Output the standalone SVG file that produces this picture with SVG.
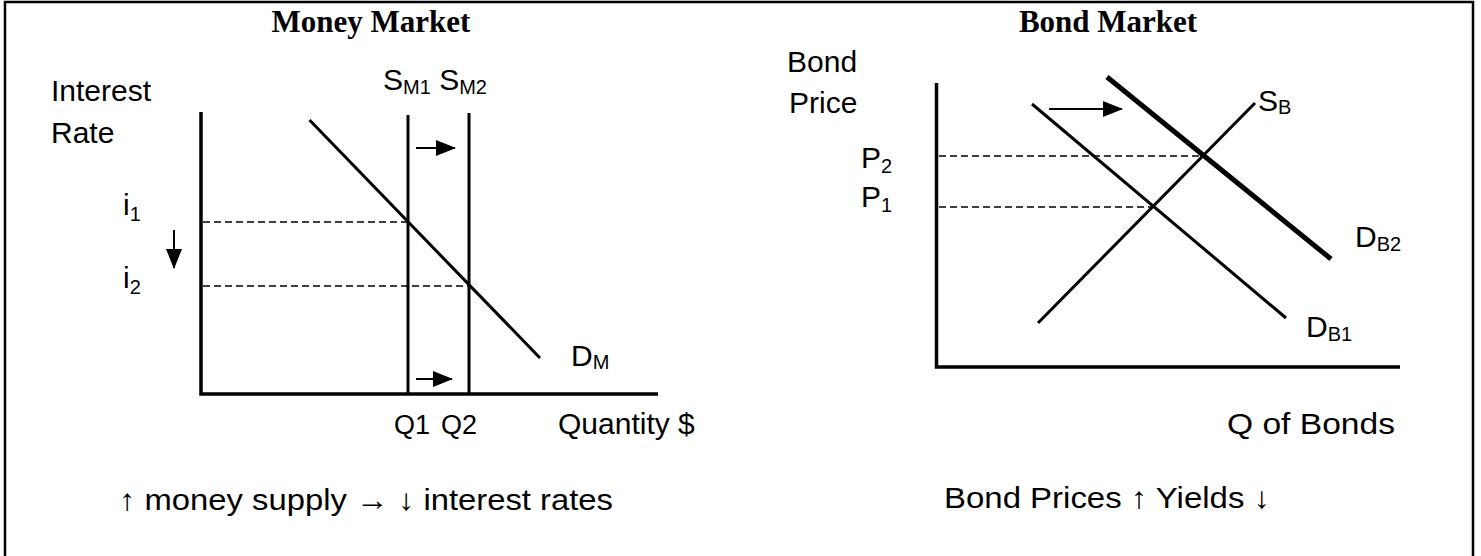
<svg xmlns="http://www.w3.org/2000/svg" width="1481" height="556" viewBox="0 0 1481 556">
<defs>
<style>
.t{font-family:"Liberation Sans",Arial,sans-serif;font-size:30px;fill:#000}
.q{font-size:27px}
.sub{font-size:20px}
.ttl{font-family:"Liberation Serif","Times New Roman",serif;font-size:31px;font-weight:bold;fill:#000}
.ax{stroke:#000;stroke-width:3.5;fill:none}
.ln{stroke:#000;stroke-width:3;fill:none}
.dash{stroke:#000;stroke-width:1.6;stroke-dasharray:7 4;fill:none}
.arr{stroke:#000;stroke-width:2;fill:none;marker-end:url(#ah)}
</style>
<marker id="ah" markerUnits="userSpaceOnUse" markerWidth="20" markerHeight="16" refX="19" refY="8" orient="auto">
<path d="M0,0 L20,8 L0,16 Z" fill="#000"/>
</marker>
</defs>
<rect width="1481" height="556" fill="#fff"/>
<path d="M5,556 V2 H1473 V556" stroke="#000" stroke-width="2.5" fill="none"/>

<g id="money-market">
<text class="ttl" x="371" y="32" text-anchor="middle">Money Market</text>
<text class="t" x="51" y="101">Interest</text>
<text class="t" x="51" y="143">Rate</text>
<text class="t" x="383" y="90">S<tspan class="sub" dy="4">M1</tspan><tspan dy="-4"> S</tspan><tspan class="sub" dy="4">M2</tspan></text>
<text class="t" x="123" y="215">i<tspan class="sub" dy="6">1</tspan></text>
<text class="t" x="123" y="288">i<tspan class="sub" dy="6">2</tspan></text>
<text class="t" x="571" y="366">D<tspan class="sub" dy="3">M</tspan></text>
<text class="t q" x="394" y="434">Q1</text>
<text class="t q" x="441" y="434">Q2</text>
<text class="t" x="558" y="434">Quantity $</text>
<text class="t" x="119" y="510" textLength="494" lengthAdjust="spacingAndGlyphs">↑ money supply → ↓ interest rates</text>
</g>

<g id="bond-market">
<text class="ttl" x="1108" y="32" text-anchor="middle">Bond Market</text>
<text class="t" x="787" y="72">Bond</text>
<text class="t" x="789" y="113">Price</text>
<text class="t" x="861" y="168">P<tspan class="sub" dy="5">2</tspan></text>
<text class="t" x="861" y="207">P<tspan class="sub" dy="5">1</tspan></text>
<text class="t" x="1258" y="111">S<tspan class="sub" dy="3">B</tspan></text>
<text class="t" x="1355" y="247">D<tspan class="sub" dy="4">B2</tspan></text>
<text class="t" x="1306" y="337">D<tspan class="sub" dy="4">B1</tspan></text>
<text class="t" x="1227" y="434" textLength="168" lengthAdjust="spacingAndGlyphs">Q of  Bonds</text>
<text class="t" x="944" y="508" textLength="326" lengthAdjust="spacingAndGlyphs">Bond Prices ↑ Yields ↓</text>
</g>

<g id="connectors">
<path class="ax" d="M201,112 V394 H658"/>
<line class="ln" x1="408" y1="115" x2="408" y2="394"/>
<line class="ln" x1="469" y1="113" x2="469" y2="394"/>
<line class="ln" x1="309.5" y1="120" x2="540" y2="358"/>
<line class="dash" x1="203" y1="222" x2="407" y2="222"/>
<line class="dash" x1="203" y1="286" x2="468" y2="286"/>
<line class="arr" x1="416" y1="148" x2="455" y2="148"/>
<line class="arr" x1="416" y1="379" x2="452" y2="379"/>
<line class="arr" x1="174" y1="230" x2="174" y2="268"/>

<path class="ax" d="M936.5,83 V367 H1400"/>
<line x1="1107" y1="77" x2="1331" y2="259" stroke="#000" stroke-width="5"/>
<line class="ln" x1="1032" y1="104" x2="1286" y2="318"/>
<line class="ln" x1="1038" y1="323" x2="1255" y2="103"/>
<line class="dash" x1="939" y1="156" x2="1203" y2="156"/>
<line class="dash" x1="939" y1="207" x2="1152" y2="207"/>
<line class="arr" x1="1049" y1="109" x2="1122" y2="109"/>
</g>
</svg>
